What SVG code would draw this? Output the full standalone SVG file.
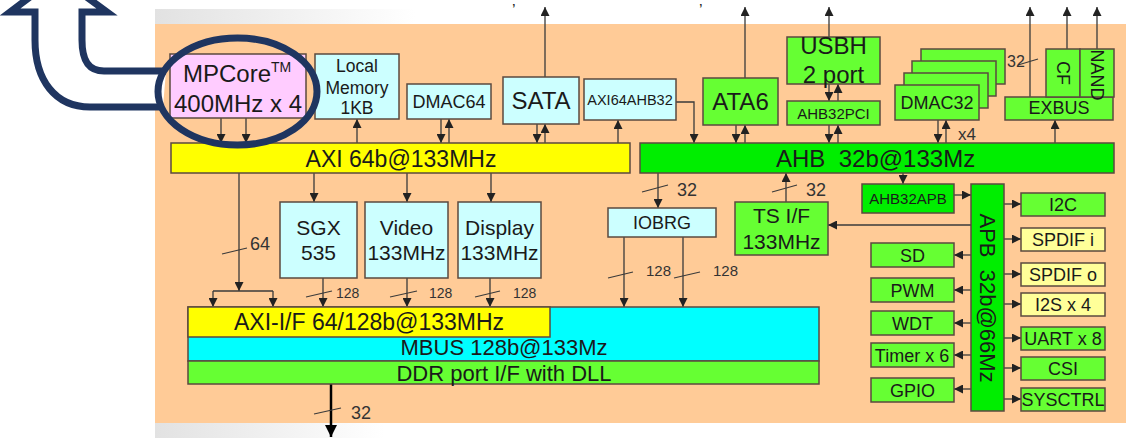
<svg xmlns="http://www.w3.org/2000/svg" width="1128" height="438" viewBox="0 0 1128 438">
<defs>
<marker id="ah" markerUnits="userSpaceOnUse" markerWidth="9" markerHeight="9" refX="9" refY="4.5" orient="auto"><path d="M0,0 L9,4.5 L0,9 z" fill="#222"/></marker>
<marker id="ahb" markerUnits="userSpaceOnUse" markerWidth="12" markerHeight="12" refX="12" refY="6" orient="auto"><path d="M0,0 L12,6 L0,12 z" fill="#000"/></marker>
<linearGradient id="fade" x1="0" y1="0" x2="1" y2="0"><stop offset="0" stop-color="#e2e2e2"/><stop offset="1" stop-color="#ffffff"/></linearGradient>
</defs>
<style>
.box{stroke:#5b4a3f;stroke-width:1.5}
.cy{fill:#CCFFFF}.gr{fill:#66FF33}.bg{fill:#00EE00}.ye{fill:#FFFF00}.py{fill:#FFFF99}.pk{fill:#FFCCFF}.cn{fill:#00FFFF}
text{font-family:"Liberation Sans",Arial,sans-serif;fill:#1a1a1a}
.c{text-anchor:middle}
.ln{stroke:#3a3a3a;stroke-width:1.3;fill:none}
.ar{marker-end:url(#ah)}
.sl{stroke:#3a3a3a;stroke-width:1.2}
.lb{fill:#333}
</style>
<rect x="0" y="0" width="1128" height="438" fill="#fff"/>
<rect x="155" y="9" width="260" height="15" fill="url(#fade)"/>
<rect x="155" y="423" width="230" height="15" fill="url(#fade)"/>
<rect x="155" y="24" width="971" height="399" fill="#FFCB97"/>
<text x="512" y="16" font-size="16">’</text>
<text x="699" y="16" font-size="16">’</text>

<path d="M163,107 L90,107 C55,107 35,80 35,40 L35,12 L10,12 L58,-24 L107,12 L82,12 L82,40 C82,60 88,71 104,71 L166,71" fill="#fff" stroke="#1F3560" stroke-width="7" stroke-linejoin="miter"/>

<g id="connectors">
<line class="ln ar" x1="221" y1="118" x2="221" y2="143"/>
<line class="ln ar" x1="246" y1="118" x2="246" y2="143"/>
<line class="ln ar" x1="357" y1="143" x2="357" y2="119"/>
<line class="ln ar" x1="441" y1="119" x2="441" y2="143"/>
<line class="ln ar" x1="449" y1="143" x2="449" y2="119"/>
<line class="ln ar" x1="537" y1="124" x2="537" y2="143"/>
<line class="ln ar" x1="545" y1="143" x2="545" y2="124"/>
<line class="ln ar" x1="545" y1="77" x2="545" y2="7"/>
<line class="ln ar" x1="618" y1="143" x2="618" y2="120"/>
<path class="ln ar" d="M676,102 H694 V143"/>
<line class="ln ar" x1="736" y1="125" x2="736" y2="143"/>
<line class="ln ar" x1="745" y1="143" x2="745" y2="125"/>
<line class="ln ar" x1="745" y1="78" x2="745" y2="7"/>
<line class="ln ar" x1="829" y1="37" x2="829" y2="7"/>
<line class="ln ar" x1="829" y1="84" x2="829" y2="101"/>
<line class="ln ar" x1="838" y1="101" x2="838" y2="84"/>
<line class="ln ar" x1="829" y1="125" x2="829" y2="143"/>
<line class="ln ar" x1="838" y1="143" x2="838" y2="125"/>
<line class="ln ar" x1="938" y1="120" x2="938" y2="143"/>
<line class="ln ar" x1="946" y1="143" x2="946" y2="120"/>
<line class="ln ar" x1="1055" y1="143" x2="1055" y2="120"/>
<line class="ln ar" x1="1030" y1="97" x2="1030" y2="7"/>
<line class="ln ar" x1="1067" y1="49" x2="1067" y2="7"/>
<line class="ln ar" x1="1097" y1="49" x2="1097" y2="7"/>
<line class="ln ar" x1="903" y1="173" x2="903" y2="184"/>
<line class="ln ar" x1="954" y1="195" x2="971" y2="195"/>
<line class="ln ar" x1="971" y1="225" x2="828" y2="225"/>
<line class="ln ar" x1="1004" y1="204" x2="1021" y2="204"/>
<line class="ln ar" x1="1004" y1="239" x2="1021" y2="239"/>
<line class="ln ar" x1="1004" y1="274" x2="1021" y2="274"/>
<line class="ln ar" x1="1004" y1="304" x2="1021" y2="304"/>
<line class="ln ar" x1="1004" y1="338" x2="1021" y2="338"/>
<line class="ln ar" x1="1004" y1="368" x2="1021" y2="368"/>
<line class="ln ar" x1="1004" y1="399" x2="1021" y2="399"/>
<line class="ln ar" x1="971" y1="255" x2="954" y2="255"/>
<line class="ln ar" x1="971" y1="290" x2="954" y2="290"/>
<line class="ln ar" x1="971" y1="323" x2="954" y2="323"/>
<line class="ln ar" x1="971" y1="355" x2="954" y2="355"/>
<line class="ln ar" x1="971" y1="389" x2="954" y2="389"/>
<line class="ln ar" x1="658" y1="173" x2="658" y2="208"/>
<line class="ln ar" x1="786" y1="202" x2="786" y2="173"/>
<line class="ln ar" x1="624" y1="237" x2="624" y2="307"/>
<line class="ln ar" x1="683" y1="237" x2="683" y2="307"/>
<line class="ln ar" x1="314" y1="173" x2="314" y2="202"/>
<line class="ln ar" x1="407" y1="173" x2="407" y2="202"/>
<line class="ln ar" x1="491" y1="173" x2="491" y2="202"/>
<line class="ln ar" x1="323" y1="278" x2="323" y2="307"/>
<line class="ln ar" x1="407" y1="278" x2="407" y2="307"/>
<line class="ln ar" x1="490" y1="278" x2="490" y2="307"/>
<line class="ln ar" x1="239" y1="173" x2="239" y2="291"/>
<line class="ln" x1="213" y1="291" x2="273" y2="291"/>
<line class="ln ar" x1="213" y1="291" x2="213" y2="307"/>
<line class="ln ar" x1="273" y1="291" x2="273" y2="307"/>
<line x1="331" y1="384" x2="331" y2="437" stroke="#000" stroke-width="2.5" marker-end="url(#ahb)"/>
<line class="sl" x1="222" y1="254" x2="247" y2="248"/>
<line class="sl" x1="306" y1="297" x2="332" y2="291"/>
<line class="sl" x1="390" y1="297" x2="417" y2="291"/>
<line class="sl" x1="475" y1="297" x2="500" y2="291"/>
<line class="sl" x1="642" y1="192" x2="668" y2="185"/>
<line class="sl" x1="772" y1="192" x2="797" y2="185"/>
<line class="sl" x1="608" y1="278" x2="633" y2="272"/>
<line class="sl" x1="674" y1="278" x2="700" y2="272"/>
<line class="sl" x1="314" y1="414" x2="341" y2="408"/>
<line class="sl" x1="1018" y1="65" x2="1038" y2="59"/>
<text class="lb" x="250" y="250" font-size="18">64</text>
<text class="lb" x="336" y="298" font-size="14">128</text>
<text class="lb" x="429" y="298" font-size="14">128</text>
<text class="lb" x="513" y="298" font-size="14">128</text>
<text class="lb" x="677" y="196" font-size="18">32</text>
<text class="lb" x="806" y="196" font-size="18">32</text>
<text class="lb" x="646" y="276" font-size="15">128</text>
<text class="lb" x="713" y="276" font-size="15">128</text>
<text class="lb" x="351" y="419" font-size="18">32</text>
<text class="lb" x="958" y="140" font-size="17">x4</text>
<text class="lb" x="1007" y="67" font-size="16">32</text>
</g>

<g id="mpcore"><rect class="box pk" x="170" y="54" width="136" height="64"/><text x="183" y="82" font-size="24">MPCore<tspan font-size="14" dy="-10">TM</tspan></text><text class="c" x="238" y="112" font-size="24">400MHz x 4</text></g>
<g id="localmem"><rect class="box cy" x="315" y="54" width="84" height="65"/><text class="c" x="357" y="72" font-size="17.5">Local</text><text class="c" x="357" y="94" font-size="17.5">Memory</text><text class="c" x="357" y="114" font-size="17.5">1KB</text></g>
<g id="axi"><rect class="box ye" x="171" y="143" width="459" height="30"/><text class="c" x="401" y="167" font-size="23">AXI 64b@133MHz</text></g>
<g id="dmac64"><rect class="box cy" x="407" y="84" width="84" height="35"/><text class="c" x="449" y="108" font-size="18">DMAC64</text></g>
<g id="sata"><rect class="box cy" x="503" y="77" width="76" height="47"/><text class="c" x="541" y="109" font-size="24">SATA</text></g>
<g id="axi64ahb32"><rect class="box cy" x="584" y="79" width="92" height="41"/><text class="c" x="630" y="105" font-size="14.5">AXI64AHB32</text></g>
<g id="ata6"><rect class="box gr" x="703" y="78" width="75" height="47"/><text class="c" x="740.5" y="110" font-size="24">ATA6</text></g>
<g id="ahb"><rect class="box bg" x="640" y="143" width="474" height="30"/><text x="776" y="167" font-size="24">AHB&#160; 32b@133Mz</text></g>
<g id="usbh"><rect class="box gr" x="787" y="37" width="93" height="47"/><text class="c" x="833.5" y="54" font-size="24">USBH</text><text class="c" x="833.5" y="83" font-size="24">2 port</text></g>
<g id="ahb32pci"><rect class="box gr" x="787" y="101" width="93" height="24"/><text class="c" x="833.5" y="118.5" font-size="15">AHB32PCI</text></g>
<g id="dmac32"><rect class="box gr" x="921" y="49" width="84" height="35"/><rect class="box gr" x="912" y="61" width="84" height="35"/><rect class="box gr" x="904" y="73" width="84" height="35"/><rect class="box gr" x="895" y="85" width="84" height="35"/><text class="c" x="937" y="109" font-size="18">DMAC32</text></g>
<g id="exbus"><rect class="box gr" x="1005" y="97" width="108" height="23"/><text class="c" x="1059" y="114" font-size="18">EXBUS</text></g>
<g id="cf"><rect class="box gr" x="1046" y="49" width="34" height="48"/><text class="c" transform="translate(1063,73) rotate(90)" y="6.5" font-size="18">CF</text></g>
<g id="nand"><rect class="box gr" x="1080" y="49" width="34" height="48"/><text class="c" transform="translate(1097,75) rotate(90)" y="6.5" font-size="18">NAND</text></g>
<g id="ahb32apb"><rect class="box bg" x="862" y="184" width="92" height="29"/><text class="c" x="908" y="204" font-size="15">AHB32APB</text></g>
<g id="apb"><rect class="box bg" x="971" y="184" width="33" height="227"/><text class="c" transform="translate(987.5,298) rotate(90)" y="8" font-size="22">APB&#160; 32b@66Mz</text></g>
<g id="i2c"><rect class="box gr" x="1021" y="193" width="84" height="23"/><text class="c" x="1063" y="210.5" font-size="18">I2C</text></g>
<g id="spdifi"><rect class="box py" x="1021" y="228" width="84" height="23"/><text class="c" x="1063" y="245.5" font-size="18">SPDIF i</text></g>
<g id="spdifo"><rect class="box py" x="1021" y="263" width="84" height="23"/><text class="c" x="1063" y="280.5" font-size="18">SPDIF o</text></g>
<g id="i2s"><rect class="box py" x="1021" y="293" width="84" height="23"/><text class="c" x="1063" y="310.5" font-size="18">I2S x 4</text></g>
<g id="uart"><rect class="box gr" x="1021" y="327" width="84" height="23"/><text class="c" x="1063" y="344.5" font-size="18">UART x 8</text></g>
<g id="csi"><rect class="box gr" x="1021" y="357" width="84" height="23"/><text class="c" x="1063" y="374.5" font-size="18">CSI</text></g>
<g id="sysctrl"><rect class="box gr" x="1021" y="388" width="84" height="23"/><text class="c" x="1063" y="405.5" font-size="18">SYSCTRL</text></g>
<g id="sd"><rect class="box gr" x="871" y="243" width="83" height="24"/><text class="c" x="912.5" y="261.5" font-size="18">SD</text></g>
<g id="pwm"><rect class="box gr" x="871" y="278" width="83" height="24"/><text class="c" x="912.5" y="296.5" font-size="18">PWM</text></g>
<g id="wdt"><rect class="box gr" x="871" y="311" width="83" height="24"/><text class="c" x="912.5" y="329.5" font-size="18">WDT</text></g>
<g id="timer"><rect class="box gr" x="871" y="343" width="83" height="24"/><text class="c" x="912" y="361.5" font-size="18">Timer x 6</text></g>
<g id="gpio"><rect class="box gr" x="871" y="378" width="83" height="24"/><text class="c" x="912.5" y="396.5" font-size="18">GPIO</text></g>
<g id="tsif"><rect class="box gr" x="735" y="202" width="93" height="53"/><text class="c" x="781.5" y="223" font-size="21">TS I/F</text><text class="c" x="781.5" y="249" font-size="21">133MHz</text></g>
<g id="iobrg"><rect class="box cy" x="608" y="208" width="108" height="29"/><text class="c" x="662" y="229" font-size="18">IOBRG</text></g>
<g id="sgx"><rect class="box cy" x="280" y="202" width="77" height="76"/><text class="c" x="318.5" y="235" font-size="21">SGX</text><text class="c" x="318.5" y="260" font-size="21">535</text></g>
<g id="video"><rect class="box cy" x="365" y="202" width="83" height="76"/><text class="c" x="406.5" y="235" font-size="21">Video</text><text class="c" x="406.5" y="260" font-size="21">133MHz</text></g>
<g id="display"><rect class="box cy" x="458" y="202" width="83" height="76"/><text class="c" x="499.5" y="235" font-size="21">Display</text><text class="c" x="499.5" y="260" font-size="21">133MHz</text></g>
<g id="mbus"><rect class="box cn" x="188" y="307" width="631" height="54"/><text class="c" x="504" y="355" font-size="22">MBUS 128b@133Mz</text></g>
<g id="axiif"><rect class="box ye" x="188" y="307" width="362" height="30"/><text class="c" x="369" y="330" font-size="23">AXI-I/F 64/128b@133MHz</text></g>
<g id="ddr"><rect class="box gr" x="188" y="361" width="631" height="23"/><text class="c" x="504" y="381" font-size="22">DDR port I/F with DLL</text></g>

<ellipse cx="237.5" cy="91.5" rx="79.5" ry="53.5" fill="none" stroke="#1F3560" stroke-width="7"/>
</svg>
